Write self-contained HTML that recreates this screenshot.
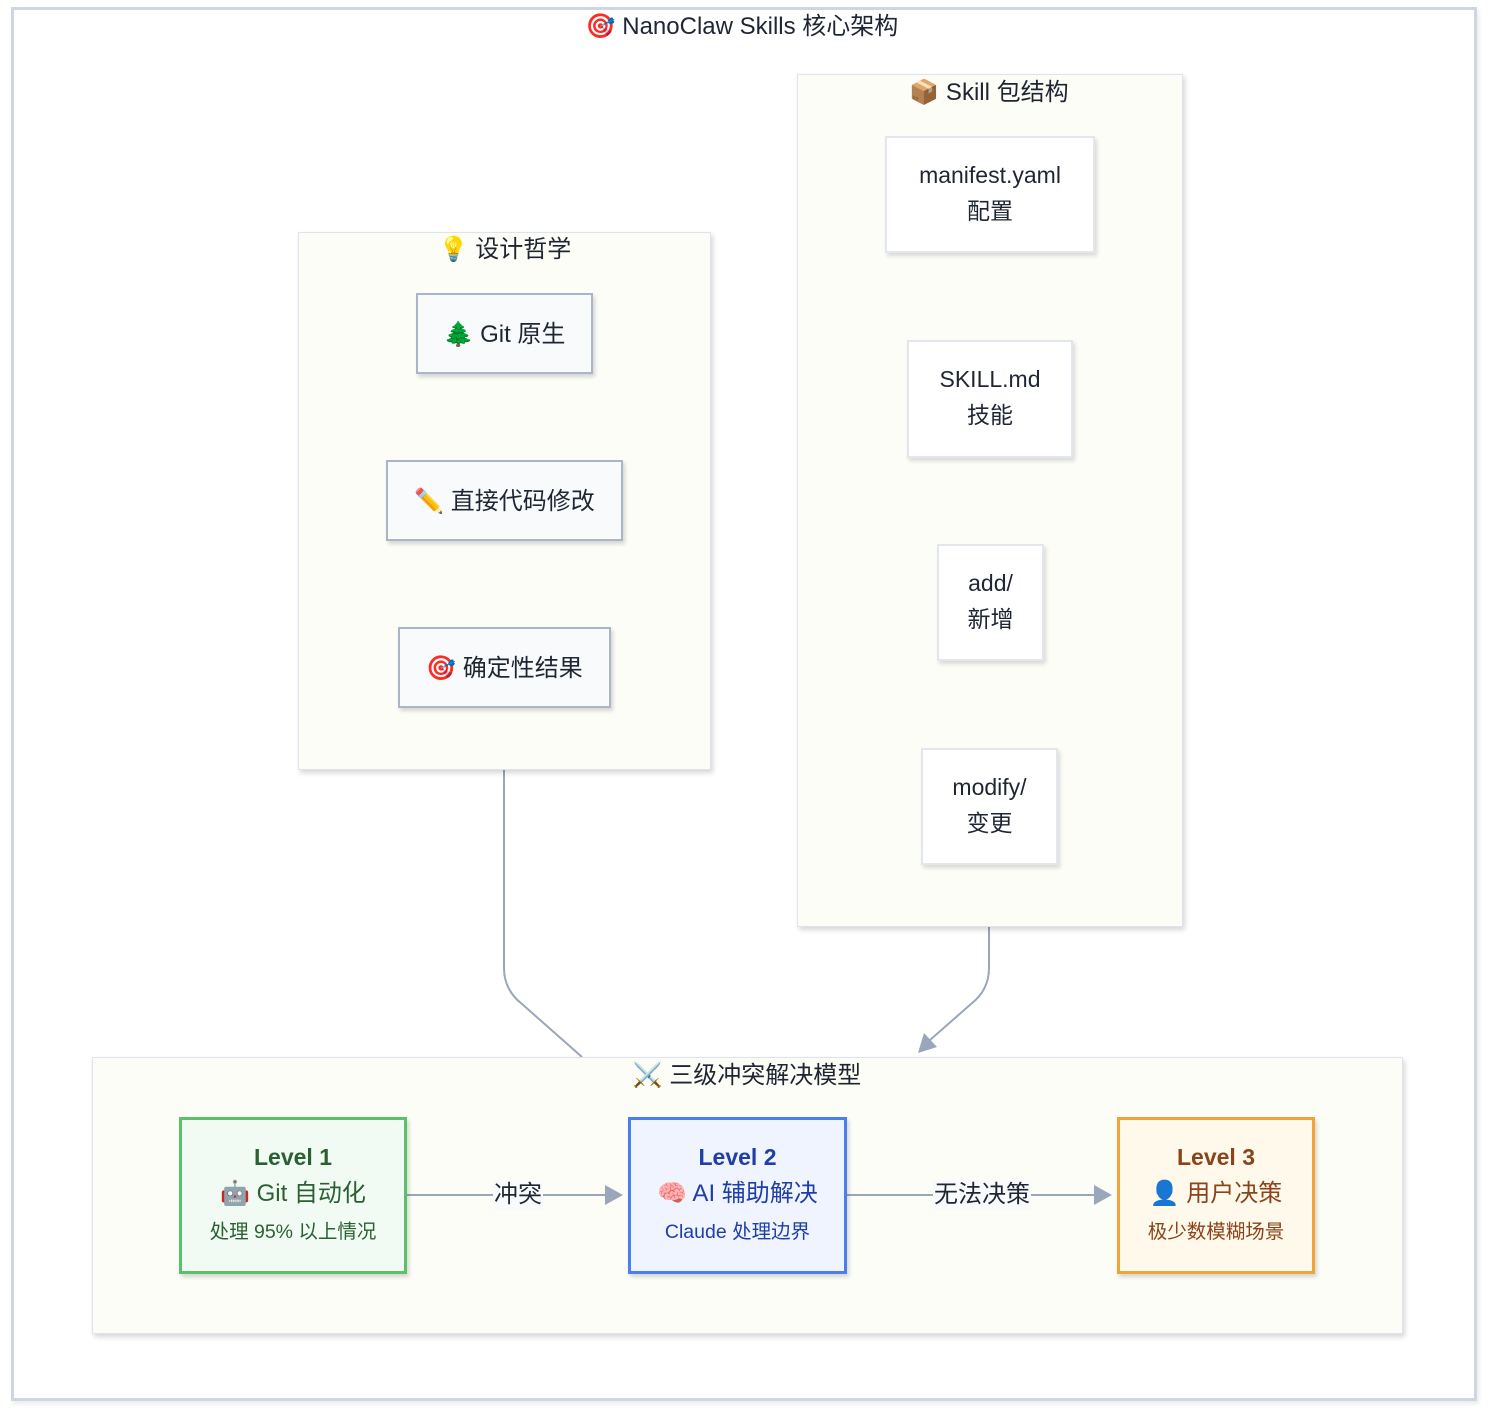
<!DOCTYPE html>
<html><head><meta charset="utf-8">
<style>
html,body{margin:0;padding:0;background:#fff;}
body{width:1488px;height:1412px;position:relative;overflow:hidden;font-family:"Liberation Sans","Noto Sans CJK SC","Noto Color Emoji",sans-serif;color:#1e2430;}
.abs{position:absolute;box-sizing:border-box;}
.frame{left:11px;top:7px;width:1466px;height:1394px;border:3px solid #cdd6e2;box-shadow:2px 3px 4px rgba(0,0,0,0.08);background:#fff;}
.sg{background:#fdfdf8;border:1px solid #dfe3ec;box-shadow:2px 3px 5px rgba(0,0,0,0.16);}
.t{position:absolute;white-space:nowrap;font-size:24px;line-height:28px;text-align:center;transform:translateX(-50%);}
.n1{background:#f8fafc;border:2px solid #a9b5c9;box-shadow:2px 3px 4px rgba(0,0,0,0.16);display:flex;align-items:center;justify-content:center;font-size:24px;white-space:nowrap;color:#1f2633;padding-bottom:4px;}
.n2{background:#fff;border:2px solid #e2e6ee;box-shadow:2px 3px 4px rgba(0,0,0,0.14);display:flex;flex-direction:column;align-items:center;justify-content:center;font-size:23px;line-height:36px;white-space:nowrap;color:#1f2633;padding-bottom:4px;}
.lv{display:flex;flex-direction:column;align-items:center;justify-content:center;white-space:nowrap;box-shadow:2px 3px 4px rgba(0,0,0,0.16);}
.lv .a{font-size:23px;font-weight:bold;line-height:36px;}
.lv .b{font-size:24px;line-height:38px;}
.lv .c{font-size:19.5px;line-height:39px;}
.el{position:absolute;background:#f8fafc;font-size:24px;line-height:30px;white-space:nowrap;color:#1f2633;padding:0 1px;}
</style></head><body>
<div class="abs frame"></div>
<div class="t" style="left:742px;top:13px;color:#1e2534;">🎯 NanoClaw Skills 核心架构</div>

<svg class="abs" style="left:0;top:0;" width="1488" height="1412">
  <path d="M504 769 L504 968 Q504 990 522 1004 L582 1057" fill="none" stroke="#9aa6ba" stroke-width="2"/>
  <path d="M989 926 L989 968 Q989 990 971 1004 L930 1040" fill="none" stroke="#9aa6ba" stroke-width="2"/>
  <polygon points="918,1053 924,1033 937,1047" fill="#9aa6ba"/>
</svg>

<!-- design philosophy -->
<div class="abs sg" style="left:298px;top:232px;width:413px;height:538px;"></div>
<div class="t" style="left:505px;top:236px;">💡 设计哲学</div>
<div class="abs n1" style="left:416px;top:293px;width:177px;height:81px;">🌲 Git 原生</div>
<div class="abs n1" style="left:386px;top:460px;width:237px;height:81px;">✏️ 直接代码修改</div>
<div class="abs n1" style="left:398px;top:627px;width:213px;height:81px;">🎯 确定性结果</div>

<!-- skill package -->
<div class="abs sg" style="left:797px;top:74px;width:386px;height:853px;"></div>
<div class="t" style="left:989px;top:79px;">📦 Skill 包结构</div>
<div class="abs n2" style="left:885px;top:136px;width:210px;height:117px;"><div>manifest.yaml</div><div>配置</div></div>
<div class="abs n2" style="left:907px;top:340px;width:166px;height:118px;"><div>SKILL.md</div><div>技能</div></div>
<div class="abs n2" style="left:937px;top:544px;width:107px;height:117px;"><div>add/</div><div>新增</div></div>
<div class="abs n2" style="left:921px;top:748px;width:137px;height:117px;"><div>modify/</div><div>变更</div></div>

<!-- conflict model -->
<div class="abs sg" style="left:92px;top:1057px;width:1311px;height:277px;"></div>
<div class="t" style="left:747px;top:1062px;">⚔️ 三级冲突解决模型</div>

<svg class="abs" style="left:0;top:0;" width="1488" height="1412">
  <line x1="406" y1="1195" x2="607" y2="1195" stroke="#9aa6ba" stroke-width="2"/>
  <polygon points="623,1195 605,1185 605,1205" fill="#9aa6ba"/>
  <line x1="846" y1="1195" x2="1096" y2="1195" stroke="#9aa6ba" stroke-width="2"/>
  <polygon points="1112,1195 1094,1185 1094,1205" fill="#9aa6ba"/>
</svg>
<div class="el" style="left:493px;top:1180px;">冲突</div>
<div class="el" style="left:933px;top:1180px;">无法决策</div>

<div class="abs lv" style="left:179px;top:1117px;width:228px;height:157px;border:3px solid #5dbf69;background:#f1fbf4;color:#2b6132;">
  <div class="a">Level 1</div><div class="b">🤖 Git 自动化</div><div class="c">处理 95% 以上情况</div>
</div>
<div class="abs lv" style="left:628px;top:1117px;width:219px;height:157px;border:3px solid #4b7ff0;background:#eff4fe;color:#1f3ea6;">
  <div class="a">Level 2</div><div class="b">🧠 AI 辅助解决</div><div class="c">Claude 处理边界</div>
</div>
<div class="abs lv" style="left:1117px;top:1117px;width:198px;height:157px;border:3px solid #f0a33b;background:#fff9ec;color:#8a431a;">
  <div class="a">Level 3</div><div class="b">👤 用户决策</div><div class="c">极少数模糊场景</div>
</div>
</body></html>
